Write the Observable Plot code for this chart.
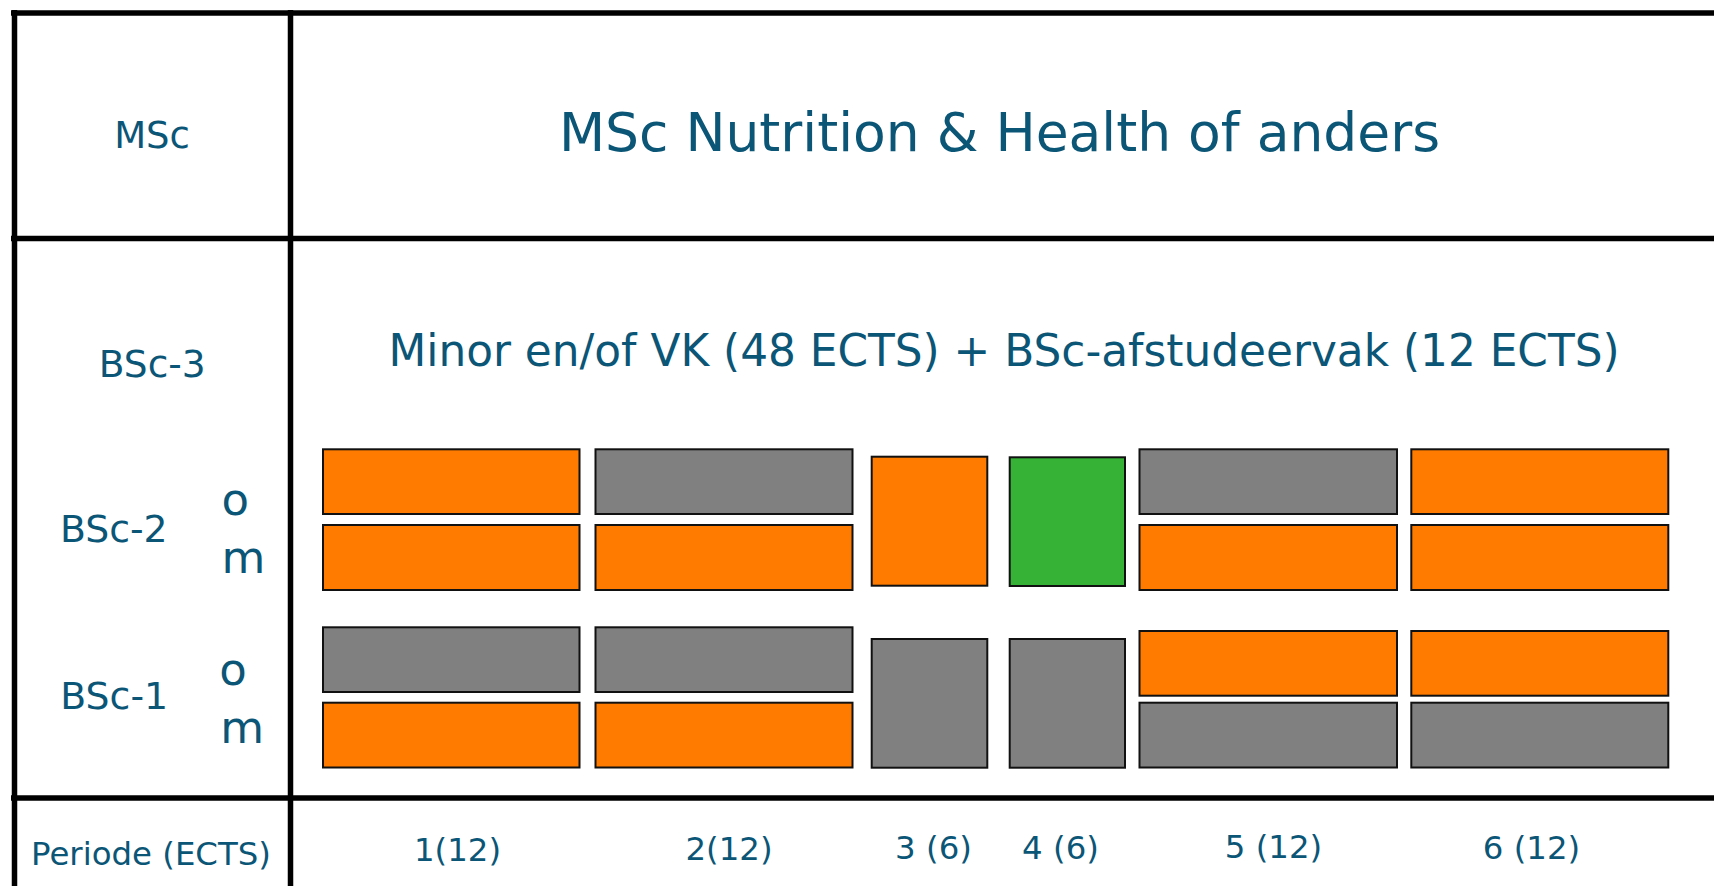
<!DOCTYPE html>
<html>
<head>
<meta charset="utf-8">
<script src="https://cdn.jsdelivr.net/npm/d3@7"></script>
<script src="https://cdn.jsdelivr.net/npm/@observablehq/plot@0.6"></script>
<style>
  html, body { margin: 0; padding: 0; background: #fff; }
  #chart svg { display: block; }
</style>
</head>
<body>
<div id="chart"></div>
<script>
// ---- Data (layout units) ----
const periodLabels = ["1(12)", "2(12)", "3 (6)", "4 (6)", "5 (12)", "6 (12)"];
const periodStart  = [323, 595.5, 871.7, 1009.7, 1139.5, 1411.3];
const periodEnd    = [579.5, 852.5, 987.3, 1125, 1397, 1668.3];
const periodLabelX = [457, 728.5, 933, 1060, 1273, 1531];
const periodLabelY = [860, 859.5, 858.5, 858.5, 857, 858];

// blocks: period index, top, bottom, colour
const blockPeriod = [0, 1, 2, 3, 4, 5,   0, 1, 4, 5,   0, 1, 2, 3, 4, 5,   0, 1, 4, 5];
const blockTop    = [449.3, 449.3, 456.7, 457.3, 449.3, 449.3,   525, 525, 525, 525,
                     627.3, 627.3, 639, 639, 631, 631,   702.7, 702.7, 702.7, 702.7];
const blockBottom = [514, 514, 585.7, 586, 514, 514,   590, 590, 590, 590,
                     692, 692, 767.7, 767.7, 695.7, 695.7,   767.5, 767.5, 767.5, 767.5];
const blockKind   = ["o", "g", "o", "G", "g", "o",   "o", "o", "o", "o",
                     "g", "g", "g", "g", "o", "o",   "o", "o", "g", "g"];
const kindColor = {o: "#ff7b00", g: "#808080", G: "#36b236"};

// frame lines
const hLineY = [12.5, 238, 797.5];
const vLineX = [14, 290];

// text labels
const labelText = ["MSc", "MSc Nutrition & Health of anders", "BSc-3",
                   "Minor en/of VK (48 ECTS) + BSc-afstudeervak (12 ECTS)",
                   "BSc-2", "o", "m", "BSc-1", "o", "m", "Periode (ECTS)"];
const labelX    = [151.5, 999, 151.7, 1003.5, 113.3, 234.7, 243, 113.7, 232.5, 241.7, 150.5];
const labelY    = [147, 150, 376.7, 365, 541.7, 514, 572.7, 708.3, 684, 742.7, 864];
const labelSize = [37, 53.5, 37.5, 43.8, 37.8, 45, 45, 37.8, 45, 45, 32.4];

// ---- Build tables ----
const blocks = blockPeriod.map((p, i) => ({
  x1: periodStart[p], x2: periodEnd[p],
  y1: blockTop[i], y2: blockBottom[i],
  fill: kindColor[blockKind[i]]
}));
const hLines = hLineY.map(y => ({y, x1: 11, x2: 1714}));
const vLines = vLineX.map(x => ({x, y1: 10, y2: 886}));
const labels = labelText.map((t, i) => ({t, x: labelX[i], y: labelY[i], s: labelSize[i]}));
const pLabels = periodLabels.map((t, i) => ({t, x: periodLabelX[i], y: periodLabelY[i]}));

const textColor = "#0b5677";

const chart = Plot.plot({
  width: 1714,
  height: 886,
  margin: 0,
  style: {fontFamily: "DejaVu Sans", background: "#fff"},
  x: {domain: [0, 1714], range: [0, 1714], axis: null},
  y: {domain: [0, 886], range: [0, 886], axis: null},
  marks: [
    Plot.rect(blocks, {x1: "x1", x2: "x2", y1: "y1", y2: "y2", fill: "fill", stroke: "#111", strokeWidth: 2}),
    Plot.ruleY(hLines, {y: "y", x1: "x1", x2: "x2", stroke: "#000", strokeWidth: 5.5}),
    Plot.ruleX(vLines, {x: "x", y1: "y1", y2: "y2", stroke: "#000", strokeWidth: 5.5}),
    Plot.text(labels, {x: "x", y: "y", text: "t", fontSize: "s", fill: textColor,
      textAnchor: "middle", lineAnchor: "bottom", fontFamily: "DejaVu Sans"}),
    Plot.text(pLabels, {x: "x", y: "y", text: "t", fontSize: 32.4, fill: textColor,
      textAnchor: "middle", lineAnchor: "bottom", fontFamily: "DejaVu Sans"})
  ]
});
document.getElementById("chart").appendChild(chart);
</script>
</body>
</html>
